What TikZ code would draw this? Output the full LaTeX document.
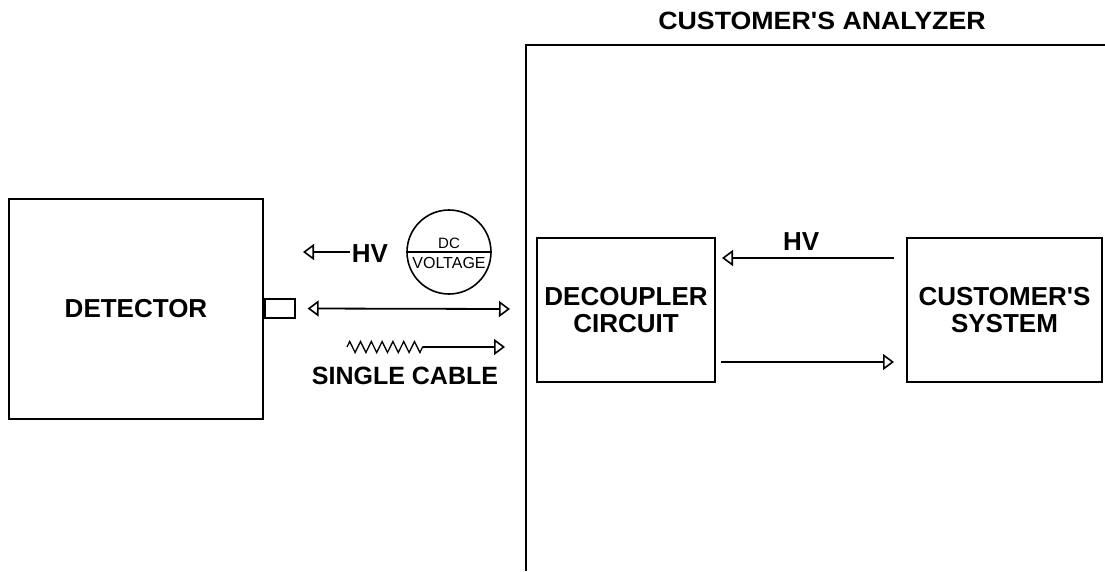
\documentclass[tikz,border=0pt]{standalone}
\usepackage{fontspec}
\setmainfont{Liberation Sans}
\usetikzlibrary{arrows.meta, positioning, calc, decorations.pathmorphing}

\begin{document}
\begin{tikzpicture}[
    x=1pt, y=-1pt,
    box/.style={draw, rectangle, line width=2pt, align=center, inner sep=0pt,
                font=\fontsize{26}{27}\selectfont\bfseries},
    arrow/.style={-{Triangle[open, length=11pt, width=16pt, line width=1.6pt]}, line width=1.8pt},
    dblarrow/.style={{Triangle[open, length=11pt, width=16pt, line width=1.6pt]}-{Triangle[open, length=11pt, width=16pt, line width=1.6pt]}, line width=1.8pt},
    lbl/.style={font=\fontsize{26}{27}\selectfont\bfseries, inner sep=0pt},
    small/.style={font=\fontsize{15}{16}\selectfont, inner sep=0pt}
  ]
    \useasboundingbox (0,0) rectangle (1105,571);

    % left side
    \node[box, minimum width=254pt, minimum height=220pt] (det) at (136,309) {DETECTOR};
    \node[box, line width=1.6pt, minimum width=30pt, minimum height=19pt,
          anchor=west] (plug) at (det.east |- 0,308.5) {};

    % customer's analyzer (open to the right and below)
    \coordinate (anltop) at (526,45);
    \coordinate (anl) at (526,309);
    \draw[line width=2pt] (anltop |- 0,571) -- (anltop) -- (1105,45);
    \node[lbl, font=\fontsize{25}{26}\selectfont\bfseries, xscale=1.07] (title) at (822,21)
      {CUSTOMER\textquotesingle S ANALYZER};

    \node[box, minimum width=178pt, minimum height=144pt] (dec) at (626,310)
      {DECOUPLER\\CIRCUIT};
    \node[box, minimum width=195pt, minimum height=144pt, right=190pt of dec] (sys)
      {CUSTOMER\textquotesingle S\\SYSTEM};

    % DC voltage source
    \node[draw, circle, line width=1.6pt, minimum size=84pt, inner sep=0pt] (dcv) at (449,252) {};
    \draw[line width=1.4pt] (dcv.west) -- (dcv.east);
    \node[small] (dctxt) at (449,243) {DC};
    \node[small, font=\fontsize{16}{17}\selectfont] (volttxt) at (449,263) {VOLTAGE};

    % HV into detector
    \node[lbl] (hvl) at (370,254) {HV};
    \coordinate (hvtip) at (303,252);
    \draw[arrow] ([xshift=-2pt]hvl.west |- hvtip) -- (hvtip);

    % signal line
    \draw[dblarrow] ([xshift=12pt]plug.east) -- ([xshift=-16pt]anl);

    % single cable
    \coordinate (zz) at (347,347);
    \coordinate (zzend) at (423,347);
    \coordinate (zztip) at (505,347);
    \draw[line width=1.3pt, decorate, decoration={zigzag, segment length=10.8pt, amplitude=5.5pt}]
      (zz) -- (zzend);
    \draw[arrow] (zzend) -- (zztip);
    \node[lbl, font=\fontsize{25}{26}\selectfont\bfseries] (cable) at (405,376) {SINGLE CABLE};

    % inside the analyzer
    \draw[arrow] ($(sys.north west)+(-12,21)$) -- node[lbl, above=7pt, pos=0.54] {HV}
      ($(dec.north east)+(6,21)$);
    \draw[arrow] ($(dec.south east)+(5,-21)$) -- ($(sys.south west)+(-12,-21)$);
  \end{tikzpicture}
\end{document}
